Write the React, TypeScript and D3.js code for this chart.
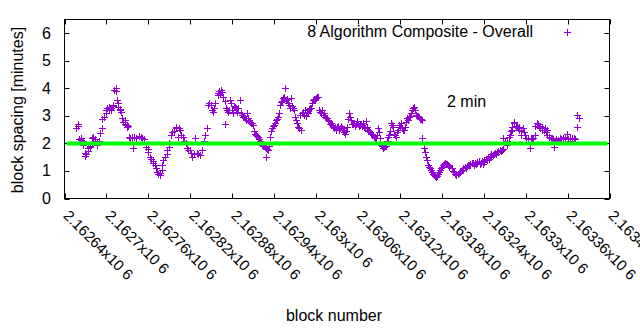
import React from "react";
import * as d3 from "d3";

// [block number, block spacing in minutes]
const samples: [number, number][] = [
[2162657,2.57],[2162659,2.69],[2162660,2.62],[2162661,2.15],[2162663,2.12],[2162664,2.18],[2162666,2.08],[2162667,1.95],[2162669,1.67],[2162670,1.55],[2162671,1.62],[2162673,1.72],[2162674,1.83],[2162676,1.88],[2162677,1.92],[2162679,2.05],[2162680,2.2],[2162681,2.24],[2162683,2.15],[2162684,2.08],[2162686,2.0],[2162687,1.94],[2162689,2.05],[2162690,2.1],[2162691,2.37],[2162693,2.55],[2162694,2.9],[2162696,2.95],[2162697,2.97],[2162699,3.1],[2162700,3.2],[2162701,3.28],[2162703,3.33],[2162704,3.25],[2162706,3.3],[2162707,3.2],[2162709,3.35],[2162710,3.4],[2162711,3.94],[2162713,4.0],[2162714,3.9],[2162715,3.57],[2162716,3.45],[2162717,3.33],[2162719,3.25],[2162720,3.21],[2162721,3.15],[2162723,2.92],[2162724,2.79],[2162726,2.85],[2162727,2.72],[2162729,2.68],[2162730,2.6],[2162731,2.65],[2162733,2.24],[2162734,2.18],[2162736,2.2],[2162737,2.22],[2162738,1.84],[2162740,2.25],[2162743,2.2],[2162746,2.28],[2162749,2.22],[2162751,2.2],[2162754,2.15],[2162757,1.88],[2162759,1.79],[2162760,1.7],[2162763,1.51],[2162764,1.45],[2162766,1.35],[2162767,1.28],[2162770,1.21],[2162771,1.1],[2162773,0.97],[2162774,0.9],[2162776,0.91],[2162777,0.85],[2162779,1.03],[2162780,1.2],[2162781,1.39],[2162784,1.51],[2162786,1.6],[2162787,1.76],[2162789,1.88],[2162790,2.0],[2162792,2.3],[2162794,2.4],[2162796,2.45],[2162799,2.6],[2162800,2.55],[2162803,2.25],[2162804,2.55],[2162806,2.48],[2162807,2.3],[2162809,2.24],[2162811,2.1],[2162814,2.0],[2162816,1.82],[2162817,1.75],[2162820,1.76],[2162821,1.65],[2162823,1.51],[2162826,1.6],[2162827,2.18],[2162829,1.64],[2162831,1.6],[2162834,1.57],[2162837,1.75],[2162840,2.1],[2162841,2.3],[2162844,2.55],[2162846,3.39],[2162847,3.45],[2162849,3.38],[2162851,3.21],[2162853,3.15],[2162854,3.3],[2162856,3.45],[2162859,3.75],[2162860,3.82],[2162861,3.9],[2162863,3.8],[2162864,3.94],[2162866,3.85],[2162867,3.69],[2162869,3.55],[2162870,2.72],[2162871,3.3],[2162873,3.21],[2162874,3.15],[2162876,3.2],[2162877,3.57],[2162879,3.45],[2162880,3.2],[2162881,3.1],[2162883,3.35],[2162884,3.33],[2162886,3.27],[2162887,3.15],[2162889,3.3],[2162891,3.57],[2162893,3.1],[2162894,3.03],[2162896,2.95],[2162897,3.0],[2162899,2.91],[2162900,2.85],[2162901,3.1],[2162903,2.91],[2162904,2.8],[2162906,2.79],[2162907,2.75],[2162909,2.73],[2162910,2.67],[2162911,2.45],[2162913,2.36],[2162914,2.3],[2162916,2.28],[2162917,2.24],[2162919,2.15],[2162920,2.1],[2162921,2.0],[2162923,1.95],[2162924,1.9],[2162927,1.88],[2162928,1.51],[2162929,1.82],[2162930,1.78],[2162931,1.76],[2162933,1.9],[2162934,2.24],[2162936,2.45],[2162937,2.55],[2162939,2.62],[2162940,2.67],[2162941,2.75],[2162943,2.85],[2162944,2.9],[2162946,2.97],[2162947,3.1],[2162949,3.39],[2162950,3.5],[2162951,3.55],[2162953,3.64],[2162954,3.7],[2162956,4.0],[2162957,3.57],[2162959,3.6],[2162960,3.45],[2162961,3.4],[2162963,3.3],[2162964,3.64],[2162966,3.35],[2162967,3.27],[2162969,3.2],[2162970,2.95],[2162971,2.85],[2162973,2.75],[2162974,2.6],[2162976,2.55],[2162977,3.03],[2162979,2.48],[2162980,3.1],[2162981,3.15],[2162983,3.05],[2162984,3.2],[2162986,3.0],[2162987,3.15],[2162989,3.1],[2162990,3.25],[2162991,3.27],[2162993,3.3],[2162994,3.45],[2162996,3.57],[2162997,3.6],[2162999,3.62],[2163000,3.65],[2163001,3.69],[2163003,3.7],[2163004,3.21],[2163006,3.15],[2163007,3.1],[2163009,3.2],[2163010,3.05],[2163011,3.09],[2163013,2.95],[2163014,2.92],[2163016,2.91],[2163017,2.85],[2163019,2.8],[2163020,2.7],[2163021,2.75],[2163023,2.67],[2163024,2.6],[2163026,2.55],[2163027,2.58],[2163029,2.5],[2163030,2.6],[2163031,2.62],[2163033,2.48],[2163034,2.55],[2163036,2.65],[2163037,2.55],[2163039,2.5],[2163040,2.4],[2163041,2.36],[2163043,2.45],[2163044,2.6],[2163046,2.9],[2163047,3.09],[2163049,2.97],[2163050,2.85],[2163051,2.7],[2163053,2.72],[2163054,2.75],[2163056,2.65],[2163057,2.7],[2163059,2.8],[2163060,2.72],[2163061,2.65],[2163063,2.68],[2163064,2.7],[2163066,2.62],[2163067,2.75],[2163069,2.6],[2163070,2.55],[2163071,2.8],[2163073,2.6],[2163074,2.5],[2163076,2.45],[2163077,2.4],[2163079,2.35],[2163080,2.36],[2163081,2.3],[2163083,2.25],[2163084,2.2],[2163086,2.18],[2163087,2.3],[2163089,2.55],[2163090,2.4],[2163091,2.2],[2163093,1.94],[2163094,1.9],[2163096,1.85],[2163097,1.88],[2163099,1.9],[2163100,1.92],[2163101,2.1],[2163103,2.24],[2163104,2.3],[2163106,2.45],[2163107,2.73],[2163109,2.67],[2163110,2.6],[2163111,2.36],[2163113,2.3],[2163114,2.24],[2163116,2.4],[2163117,2.5],[2163119,2.67],[2163120,2.6],[2163121,2.75],[2163123,2.55],[2163124,2.5],[2163126,2.48],[2163127,2.6],[2163129,2.79],[2163130,2.91],[2163131,2.85],[2163133,2.95],[2163134,3.0],[2163136,3.09],[2163137,3.2],[2163139,3.28],[2163140,3.33],[2163141,3.2],[2163143,3.03],[2163144,2.98],[2163146,3.0],[2163147,2.95],[2163149,2.9],[2163150,2.88],[2163151,2.85],[2163152,2.18],[2163154,1.82],[2163156,1.7],[2163157,1.51],[2163159,1.4],[2163160,1.21],[2163161,1.15],[2163163,1.1],[2163164,1.03],[2163166,0.95],[2163167,0.9],[2163169,0.85],[2163170,0.8],[2163171,0.79],[2163173,0.82],[2163174,0.88],[2163176,0.97],[2163177,1.02],[2163179,1.1],[2163180,1.15],[2163181,1.2],[2163183,1.27],[2163184,1.3],[2163186,1.27],[2163187,1.25],[2163189,1.2],[2163190,1.18],[2163191,1.15],[2163194,1.1],[2163196,1.0],[2163197,0.95],[2163199,0.9],[2163200,0.87],[2163201,0.85],[2163203,0.88],[2163204,0.91],[2163206,0.95],[2163207,1.0],[2163209,1.02],[2163210,1.05],[2163211,1.1],[2163213,1.15],[2163214,1.12],[2163216,1.18],[2163217,1.2],[2163219,1.21],[2163220,1.25],[2163221,1.2],[2163223,1.3],[2163224,1.28],[2163226,1.22],[2163227,1.3],[2163229,1.25],[2163230,1.32],[2163231,1.28],[2163233,1.35],[2163234,1.25],[2163236,1.3],[2163237,1.35],[2163239,1.27],[2163240,1.32],[2163241,1.39],[2163243,1.45],[2163244,1.4],[2163246,1.5],[2163247,1.45],[2163249,1.55],[2163250,1.5],[2163251,1.6],[2163253,1.58],[2163254,1.62],[2163256,1.65],[2163257,1.6],[2163259,1.7],[2163260,1.68],[2163261,1.72],[2163263,1.75],[2163264,1.74],[2163266,1.76],[2163267,1.8],[2163268,2.18],[2163270,2.05],[2163273,1.94],[2163274,2.1],[2163276,2.24],[2163277,2.3],[2163279,2.45],[2163280,2.5],[2163281,2.6],[2163283,2.79],[2163284,2.75],[2163286,2.65],[2163287,2.6],[2163289,2.55],[2163290,2.5],[2163291,2.6],[2163293,2.45],[2163294,2.3],[2163296,2.55],[2163297,2.4],[2163299,2.3],[2163300,2.2],[2163301,2.18],[2163303,2.15],[2163304,2.2],[2163306,1.82],[2163307,2.18],[2163309,2.15],[2163310,2.18],[2163311,2.2],[2163313,2.3],[2163314,2.65],[2163316,2.73],[2163317,2.7],[2163319,2.6],[2163320,2.65],[2163321,2.55],[2163323,2.6],[2163324,2.5],[2163326,2.48],[2163327,2.55],[2163329,2.4],[2163330,2.3],[2163331,2.48],[2163333,2.25],[2163334,2.24],[2163336,2.2],[2163337,2.18],[2163339,2.15],[2163340,2.1],[2163341,1.88],[2163343,2.1],[2163344,2.15],[2163346,2.1],[2163347,2.12],[2163349,2.18],[2163351,2.15],[2163354,2.2],[2163356,2.25],[2163357,2.18],[2163359,2.36],[2163360,2.15],[2163363,2.2],[2163364,2.1],[2163366,2.18],[2163369,2.2],[2163370,2.15],[2163373,2.6],[2163374,3.03],[2163376,2.91]
];

const xTickBlocks = [2162640, 2162700, 2162760, 2162820, 2162880, 2162940, 2163000, 2163060, 2163120, 2163180, 2163240, 2163300, 2163360, 2163420];
const xTickLabels = ["2.16264x10 6", "2.1627x10 6", "2.16276x10 6", "2.16282x10 6", "2.16288x10 6", "2.16294x10 6", "2.163x10 6", "2.16306x10 6", "2.16312x10 6", "2.16318x10 6", "2.16324x10 6", "2.1633x10 6", "2.16336x10 6", "2.16342x10 6"];
const yTicks = [0, 1, 2, 3, 4, 5, 6];
const targetMinutes = 2;
const seriesTitle = "8 Algorithm Composite - Overall";
const targetTitle = "2 min";
const xTitle = "block number";
const yTitle = "block spacing [minutes]";

const W = 640, H = 330;
const L = 64.5, R = 609.5, T = 19.5, B = 198.5;
const FONT = "'Liberation Sans', Arial, sans-serif";
const FS = 16;
const PURPLE = "#9400d3";

export default function App() {
  const x = d3.scaleLinear().domain([2162640, 2163420]).range([L, R]);
  const y = d3.scaleLinear().domain([0, 6.5]).range([B, T]);
  const tick = 5;
  const plus = (cx: number, cy: number, h: number) => {
    const px = Math.round(cx) + 0.5, py = Math.round(cy) + 0.5;
    return `M${px - h},${py}h${2 * h}M${px},${py - h}v${2 * h}`;
  };
  const pointsPath = samples.map(([b, v]) => plus(x(b), y(v), 3.5)).join("");
  return (
    <svg width={W} height={H} style={{ position: "absolute", left: 0, top: 0, background: "#fff" }} fontFamily={FONT} fontSize={FS}>
      <rect x={0} y={0} width={W} height={H} fill="#fff" />
      {yTicks.map((t) => (
        <g key={"y" + t}>
          <line x1={L} x2={L + tick} y1={Math.round(y(t)) + 0.5} y2={Math.round(y(t)) + 0.5} stroke="#000" />
          <line x1={R} x2={R - tick} y1={Math.round(y(t)) + 0.5} y2={Math.round(y(t)) + 0.5} stroke="#000" />
          <text x={51} y={y(t) + 5.5} textAnchor="end" fill="#000">{t}</text>
        </g>
      ))}
      {xTickBlocks.map((b, i) => (
        <g key={"x" + b}>
          <line x1={Math.round(x(b)) + 0.5} x2={Math.round(x(b)) + 0.5} y1={B} y2={B - tick} stroke="#000" />
          <line x1={Math.round(x(b)) + 0.5} x2={Math.round(x(b)) + 0.5} y1={T} y2={T + tick} stroke="#000" />
          <text transform={`translate(${x(b) - 2},${B + 18}) rotate(45)`} fontSize={15} fill="#000">{xTickLabels[i]}</text>
        </g>
      ))}
      <path d={pointsPath} stroke={PURPLE} strokeWidth={1} fill="none" />
      <line x1={L + 2} x2={R - 2} y1={y(targetMinutes)} y2={y(targetMinutes)} stroke="#00ff00" strokeWidth={4} />
      <rect x={L} y={T} width={R - L} height={B - T} fill="none" stroke="#000" />
      <text x={533} y={37} textAnchor="end" fill="#000">{seriesTitle}</text>
      <path d={plus(567, 32, 3.5)} stroke={PURPLE} fill="none" />
      <text x={447} y={107} fill="#000">{targetTitle}</text>
      <text x={334} y={321} textAnchor="middle" fill="#000">{xTitle}</text>
      <text transform={`translate(23,110) rotate(-90)`} textAnchor="middle" fill="#000">{yTitle}</text>
    </svg>
  );
}
